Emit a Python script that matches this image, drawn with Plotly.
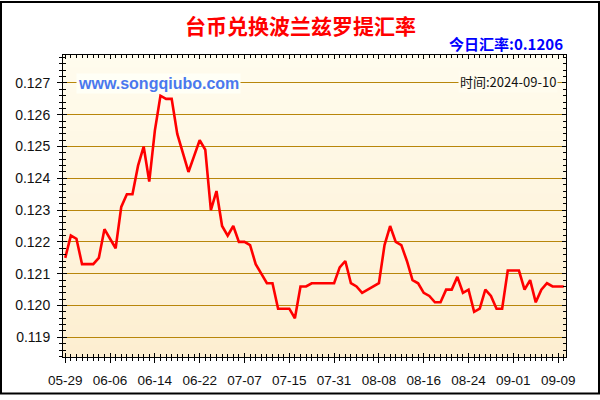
import plotly.graph_objects as go

title_text = "台币兑换波兰兹罗提汇率"
today_text = "今日汇率:0.1206"
site_text = "www.songqiubo.com"
time_text = "时间:2024-09-10"

dates = [
    "05-29", "05-30", "05-31", "06-01", "06-02", "06-03", "06-04", "06-05",
    "06-06", "06-07", "06-08", "06-09", "06-10", "06-11", "06-12", "06-13",
    "06-14", "06-15", "06-16", "06-17", "06-18", "06-19", "06-20", "06-21",
    "06-22", "06-23", "06-25", "06-27", "06-29", "07-01", "07-03", "07-05",
    "07-07", "07-08", "07-09", "07-10", "07-11", "07-12", "07-13", "07-14",
    "07-15", "07-17", "07-19", "07-21", "07-23", "07-25", "07-27", "07-29",
    "07-31", "08-01", "08-02", "08-03", "08-04", "08-05", "08-06", "08-07",
    "08-08", "08-09", "08-10", "08-11", "08-12", "08-13", "08-14", "08-15",
    "08-16", "08-17", "08-18", "08-19", "08-20", "08-21", "08-22", "08-23",
    "08-24", "08-25", "08-26", "08-27", "08-28", "08-29", "08-30", "08-31",
    "09-01", "09-02", "09-03", "09-04", "09-05", "09-06", "09-07", "09-08",
    "09-09", "09-10",
]

rates = [
    0.1215, 0.1222, 0.1221, 0.1213, 0.1213, 0.1213, 0.1215, 0.1224,
    0.1221, 0.1218, 0.1231, 0.1235, 0.1235, 0.1244, 0.1250, 0.1239,
    0.1255, 0.1266, 0.1265, 0.1265, 0.1254, 0.1248, 0.1242, 0.1247,
    0.1252, 0.1249, 0.1230, 0.1236, 0.1225, 0.1222, 0.1225, 0.1220,
    0.1220, 0.1219, 0.1213, 0.1210, 0.1207, 0.1207, 0.1199, 0.1199,
    0.1199, 0.1196, 0.1206, 0.1206, 0.1207, 0.1207, 0.1207, 0.1207,
    0.1207, 0.1212, 0.1214, 0.1207, 0.1206, 0.1204, 0.1205, 0.1206,
    0.1207, 0.1219, 0.1225, 0.1220, 0.1219, 0.1214, 0.1208, 0.1207,
    0.1204, 0.1203, 0.1201, 0.1201, 0.1205, 0.1205, 0.1209, 0.1204,
    0.1205, 0.1198, 0.1199, 0.1205, 0.1203, 0.1199, 0.1199, 0.1211,
    0.1211, 0.1211, 0.1205, 0.1208, 0.1201, 0.1205, 0.1207, 0.1206,
    0.1206, 0.1206,
]

y_ticks = [0.119, 0.120, 0.121, 0.122, 0.123, 0.124, 0.125, 0.126, 0.127]
y_ticktext = ["0.119", "0.120", "0.121", "0.122", "0.123", "0.124", "0.125", "0.126", "0.127"]

label_step = 8
x_idx = list(range(len(dates)))
x_tickvals = x_idx[::label_step]
x_ticktext = dates[::label_step]

X_RANGE = [-0.4, 89.4]
Y_RANGE = [0.11838, 0.12788]

ML, MR, MT, MB = 63, 34, 55, 38
W, H = 600, 400
PW, PH = W - ML - MR, H - MT - MB

def px_x(px):
    return (px - ML) / PW

def px_y(py):
    return (H - MB - py) / PH

GRID = "#B8860B"
TICKFONT = dict(family="Liberation Sans, Arial, sans-serif", size=14, color="#111111")

fig = go.Figure()
fig.add_trace(go.Scatter(
    x=x_idx, y=rates, mode="lines",
    line=dict(color="#FF0000", width=2.6),
    hoverinfo="skip", showlegend=False,
))
# helper (empty) trace to host the inner-tick overlay axes
fig.add_trace(go.Scatter(x=[], y=[], xaxis="x2", yaxis="y2", showlegend=False))

# background gradient (stripes)
top_c = (0xFF, 0xFC, 0xEE)
bot_c = (0xFD, 0xEE, 0xD0)
N = 48
shapes = []
for k in range(N):
    t = (k + 0.5) / N
    c = tuple(round(bot_c[j] + (top_c[j] - bot_c[j]) * t) for j in range(3))
    shapes.append(dict(
        type="rect", xref="paper", yref="paper",
        x0=0, x1=1, y0=k / N, y1=(k + 1) / N + 0.002,
        fillcolor="rgb(%d,%d,%d)" % c, line=dict(width=0), layer="below",
    ))
# outer frame
shapes.append(dict(
    type="rect", xref="paper", yref="paper",
    x0=px_x(1), x1=px_x(W - 1), y0=px_y(H - 1), y1=px_y(1),
    line=dict(color="#000000", width=2), fillcolor="rgba(0,0,0,0)", layer="above",
))

fig.update_layout(
    width=W, height=H,
    margin=dict(l=ML, r=MR, t=MT, b=MB, pad=0),
    paper_bgcolor="#FFFFFF",
    plot_bgcolor="#FEF6E0",
    showlegend=False,
    shapes=shapes,
    xaxis=dict(
        range=X_RANGE, tickmode="array", tickvals=x_tickvals, ticktext=x_ticktext,
        showgrid=False, zeroline=False, showline=True, linecolor="#000000", linewidth=1,
        mirror=True, ticks="outside", ticklen=5, tickcolor="#000000", tickwidth=1,
        minor=dict(tick0=0, dtick=1, ticks="outside", ticklen=3, tickcolor="#000000", showgrid=False),
        tickfont=dict(family="Liberation Sans, Arial, sans-serif", size=13.5, color="#111111"),
        ticklabelstandoff=6,
    ),
    yaxis=dict(
        range=Y_RANGE, tickmode="array", tickvals=y_ticks, ticktext=y_ticktext,
        showgrid=True, gridcolor=GRID, gridwidth=1, zeroline=False,
        showline=True, linecolor="#000000", linewidth=1, mirror=True,
        ticks="outside", ticklen=5, tickcolor="#000000",
        minor=dict(tick0=0.119, dtick=0.0002, ticks="outside", ticklen=3, tickcolor="#000000", showgrid=False),
        tickfont=TICKFONT, ticklabelstandoff=4,
    ),
    xaxis2=dict(
        overlaying="x", range=X_RANGE, tickmode="array", tickvals=x_tickvals,
        showticklabels=False, showgrid=False, zeroline=False, showline=False,
        ticks="inside", ticklen=4, tickcolor="#000000", mirror="ticks",
        minor=dict(tick0=0, dtick=1, ticks="inside", ticklen=3, tickcolor="#000000", showgrid=False),
    ),
    yaxis2=dict(
        overlaying="y", range=Y_RANGE, tickmode="array", tickvals=y_ticks,
        showticklabels=False, showgrid=False, zeroline=False, showline=False,
        ticks="inside", ticklen=4, tickcolor="#000000", mirror="ticks",
        minor=dict(tick0=0.119, dtick=0.0002, ticks="inside", ticklen=3, tickcolor="#000000", showgrid=False),
    ),
    annotations=[
        dict(text="<b>%s</b>" % title_text, xref="paper", yref="paper",
             x=px_x(300), y=px_y(24), xanchor="center", yanchor="middle", showarrow=False,
             font=dict(family="Noto Sans CJK SC", size=21, color="#FF0000")),
        dict(text="<b>%s</b>" % today_text, xref="paper", yref="paper",
             x=px_x(565), y=px_y(43), xanchor="right", yanchor="middle", showarrow=False,
             font=dict(family="Noto Sans CJK SC, Liberation Sans", size=15, color="#0000FF")),
        dict(text="<b>%s</b>" % site_text, xref="paper", yref="paper",
             x=px_x(76), y=px_y(84), xanchor="left", yanchor="middle", showarrow=False,
             bgcolor="#FFFFF6", borderpad=1,
             font=dict(family="Liberation Sans, Arial, sans-serif", size=16, color="#4A78EE")),
        dict(text=time_text, xref="paper", yref="paper",
             x=px_x(558), y=px_y(82), xanchor="right", yanchor="middle", showarrow=False,
             bgcolor="#FFFCEE", borderpad=1,
             font=dict(family="Noto Sans CJK SC, Liberation Sans", size=13, color="#111111")),
    ],
)

fig.write_html("out.html")
